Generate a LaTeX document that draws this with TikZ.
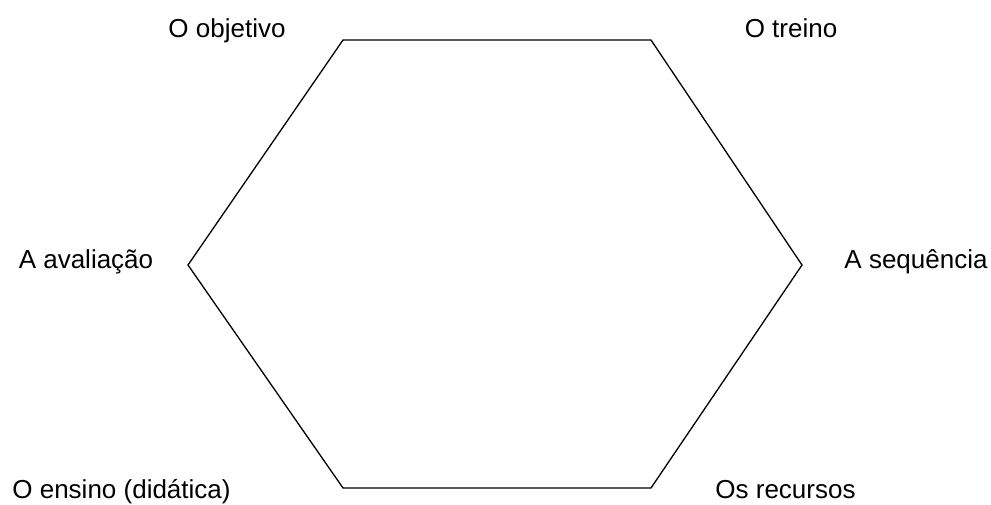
\documentclass[tikz,border=0pt]{standalone}
\usepackage{fontspec}
\setmainfont{Liberation Sans}
\begin{document}
\begin{tikzpicture}[x=1pt,y=-1pt,
  lbl/.style={font=\fontsize{26}{30}\selectfont, inner sep=0pt, text=black, anchor=base},
  hexline/.style={draw=black, line width=1.3pt, line join=miter}]
\useasboundingbox[fill=white] (0,0) rectangle (991,504);
\coordinate (tl) at (343,40);
\coordinate (tr) at (651,40);
\coordinate (r) at (802,265);
\coordinate (br) at (651,488);
\coordinate (bl) at (343,488);
\coordinate (l) at (188,265);
\draw[hexline] (tl) -- (tr) -- (r) -- (br) -- (bl) -- (l) -- cycle;
\node[lbl] (obj) at (227,37) {O objetivo};
\node[lbl] (tre) at (791,37) {O treino};
\node[lbl] (ava) at (86,268) {A avaliação};
\node[lbl] (seq) at (916,268) {A sequência};
\node[lbl] (ens) at (121.5,498) {O ensino (didática)};
\node[lbl] (rec) at (785.5,498) {Os recursos};
\end{tikzpicture}
\end{document}
